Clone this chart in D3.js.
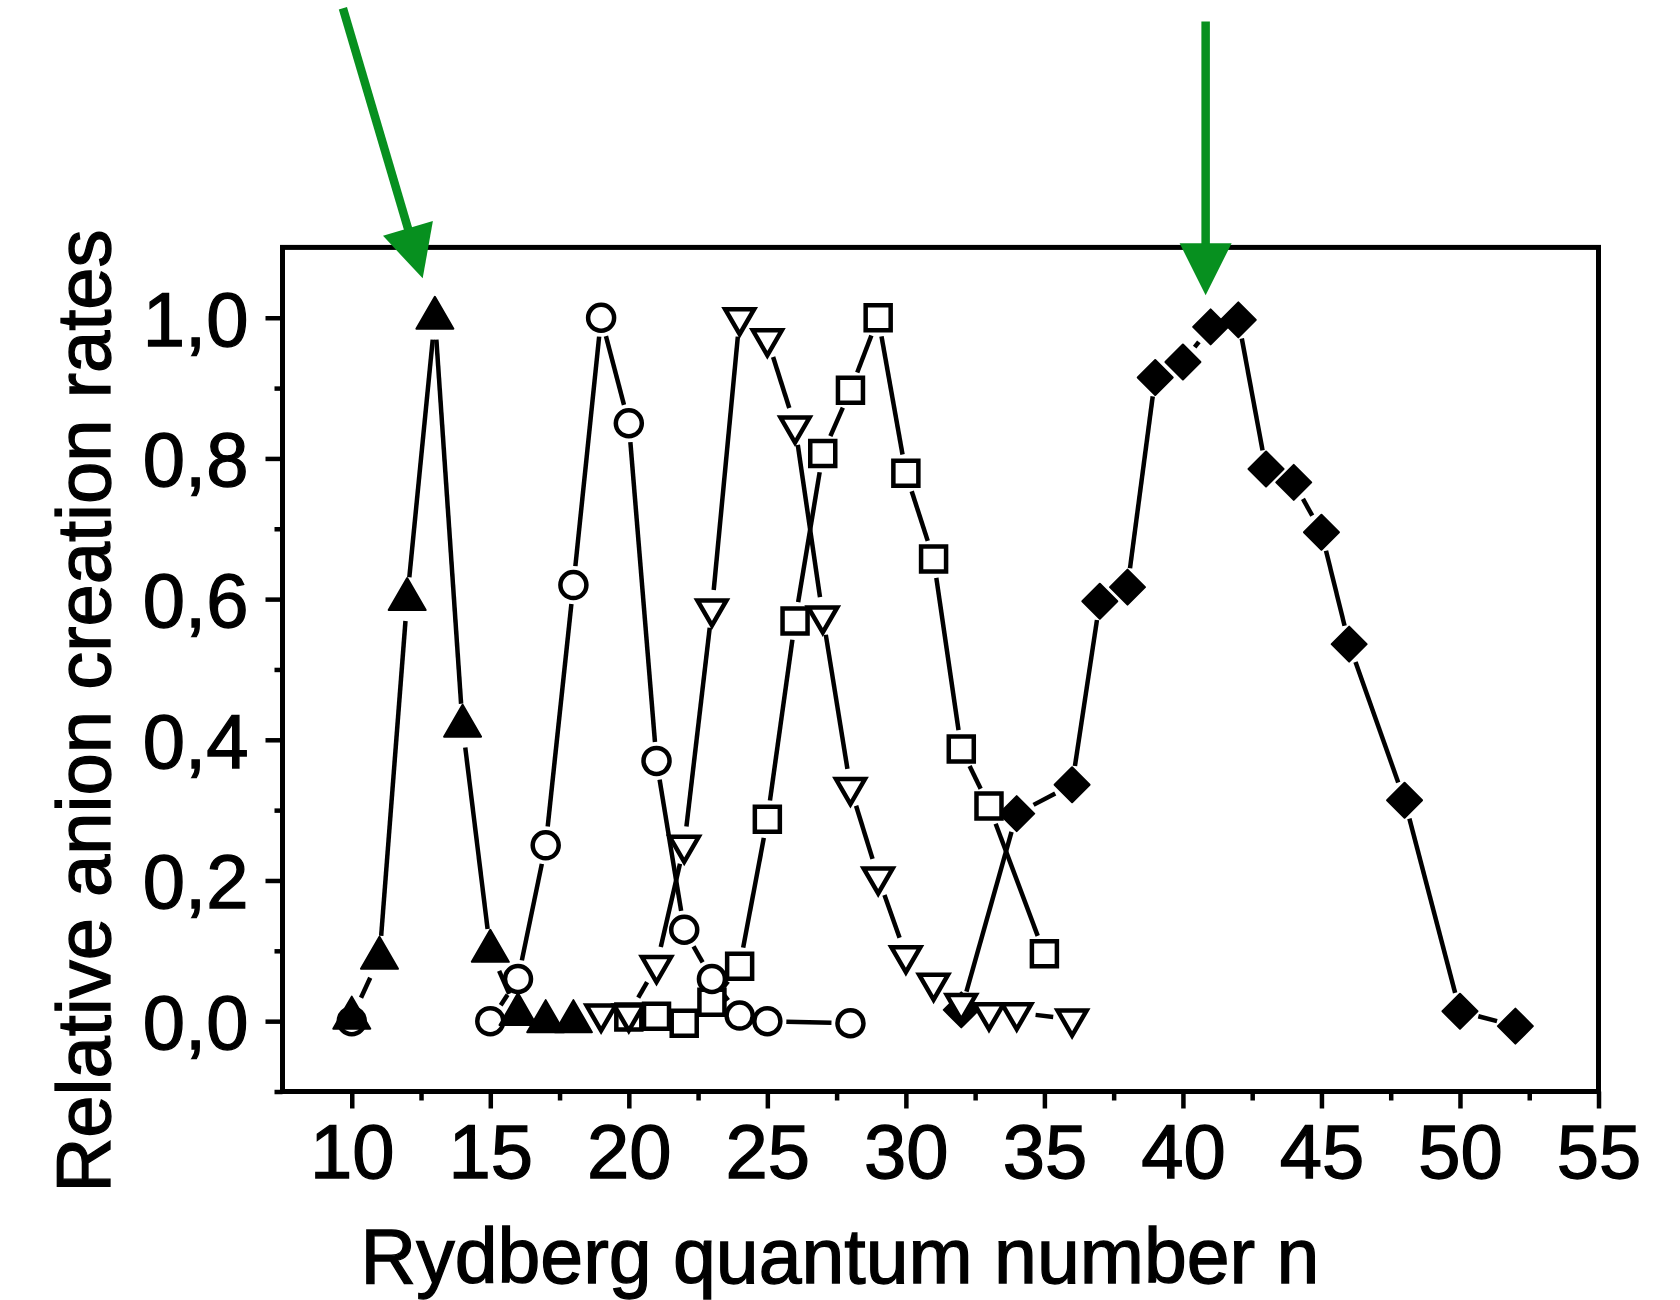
<!DOCTYPE html>
<html>
<head>
<meta charset="utf-8">
<script src="https://cdn.jsdelivr.net/npm/d3@7"></script>
<style>
  html, body { margin: 0; padding: 0; background: #fff; }
  svg { display: block; }
  text { font-family: "Liberation Sans", Arial, Helvetica, sans-serif; fill: #000; stroke: #000; stroke-width: 1.3px; }
</style>
</head>
<body>
<svg id="chart" width="1680" height="1300"></svg>
<script>
// Rydberg quantum number n for each series, and the relative anion creation rate at each n
const nTriUp = [10, 11, 12, 13, 14, 15, 16, 17, 18];
const rateTriUp = [0.005, 0.09, 0.60, 1.00, 0.42, 0.10, 0.01, 0.0, 0.0];

// null breaks the connecting line (no line between n = 10 and n = 15)
const nCircle = [10, 11, 15, 16, 17, 18, 19, 20, 21, 22, 23, 24, 25, 28];
const rateCircle = [0.0, null, 0.0, 0.06, 0.25, 0.62, 1.00, 0.85, 0.37, 0.13, 0.06, 0.008, 0.0, -0.003];

const nTriDown = [19, 20, 21, 22, 23, 24, 25, 26, 27, 28, 29, 30, 31, 32, 33, 34, 36];
const rateTriDown = [0.01, 0.01, 0.079, 0.25, 0.586, 1.00, 0.97, 0.846, 0.576, 0.332, 0.205, 0.093, 0.054, 0.025, 0.012, 0.012, 0.003];

const nSquare = [20, 21, 22, 23, 24, 25, 26, 27, 28, 29, 30, 31, 32, 33, 35];
const rateSquare = [0.006, 0.007, -0.003, 0.027, 0.078, 0.287, 0.569, 0.807, 0.897, 1.00, 0.779, 0.657, 0.387, 0.306, 0.096];

const nDiamond = [32, 34, 36, 37, 38, 39, 40, 41, 42, 43, 44, 45, 46, 48, 50, 52];
const rateDiamond = [0.016, 0.295, 0.336, 0.597, 0.617, 0.915, 0.937, 0.987, 0.997, 0.785, 0.766, 0.695, 0.536, 0.314, 0.014, -0.007];

// axis ticks
const xMajorTicks = [10, 15, 20, 25, 30, 35, 40, 45, 50, 55];
const xMinorTicks = [12.5, 17.5, 22.5, 27.5, 32.5, 37.5, 42.5, 47.5, 52.5];
const yMajorTicks = [0.0, 0.2, 0.4, 0.6, 0.8, 1.0];
const yMinorTicks = [-0.1, 0.1, 0.3, 0.5, 0.7, 0.9];

// green arrows marking the outermost peaks (in data units: [n, rate])
const peakArrows = [
  { from: [9.68, 1.44], to: [12.56, 1.056] },
  { from: [40.82, 1.421], to: [40.82, 1.032] }
];

const svg = d3.select("#chart");
svg.append("rect").attr("width", 1680).attr("height", 1300).attr("fill", "#fff");

const plot = { left: 282.5, right: 1598.5, top: 247.4, bottom: 1091.5 };

const x = d3.scaleLinear().domain([7.5, 55]).range([plot.left, plot.right]);
const y = d3.scaleLinear().domain([-0.1, 1.1]).range([plot.bottom, plot.top]);

const fmtComma = d => d3.format(".1f")(d).replace(".", ",");

// ---- axes ----
const axisG = svg.append("g");

const yMajor = axisG.append("g").attr("transform", `translate(${plot.left},0)`)
  .call(d3.axisLeft(y).tickValues(yMajorTicks).tickSize(17).tickSizeOuter(0).tickPadding(17).tickFormat(fmtComma));
const yMinor = axisG.append("g").attr("transform", `translate(${plot.left},0)`)
  .call(d3.axisLeft(y).tickValues(yMinorTicks).tickSize(8).tickSizeOuter(0).tickFormat(""));
const xMajor = axisG.append("g").attr("transform", `translate(0,${plot.bottom})`)
  .call(d3.axisBottom(x).tickValues(xMajorTicks).tickSize(17).tickSizeOuter(0).tickPadding(16).tickFormat(d3.format("d")));
const xMinor = axisG.append("g").attr("transform", `translate(0,${plot.bottom})`)
  .call(d3.axisBottom(x).tickValues(xMinorTicks).tickSize(9).tickSizeOuter(0).tickFormat(""));

axisG.selectAll(".domain").remove();
axisG.selectAll(".tick line").attr("stroke", "#000").attr("stroke-width", 4.5);
axisG.selectAll(".tick text")
  .attr("font-size", 76)
  .attr("font-family", "'Liberation Sans', Arial, sans-serif")
  .attr("fill", "#000");
yMajor.selectAll(".tick text").attr("dy", "0.36em");

// frame
svg.append("rect")
  .attr("x", plot.left).attr("y", plot.top)
  .attr("width", plot.right - plot.left).attr("height", plot.bottom - plot.top)
  .attr("fill", "none").attr("stroke", "#000").attr("stroke-width", 5);

// ---- axis titles ----
svg.append("text")
  .attr("x", 840).attr("y", 1283)
  .attr("text-anchor", "middle")
  .attr("font-size", 77)
  .text("Rydberg quantum number n");

svg.append("text")
  .attr("transform", "translate(110,711) rotate(-90)")
  .attr("text-anchor", "middle")
  .attr("font-size", 76)
  .text("Relative anion creation rates");

// ---- series ----
function points(ns, vals) {
  return ns.map((n, i) => ({ n, v: vals[i] }));
}

// connecting lines stop short of each symbol, leaving a gap around it
function drawGappedLine(g, pts, gap) {
  for (let i = 0; i < pts.length - 1; i++) {
    const a = pts[i], b = pts[i + 1];
    if (a.v == null || b.v == null) continue;
    const x0 = x(a.n), y0 = y(a.v), x1 = x(b.n), y1 = y(b.v);
    const dx = x1 - x0, dy = y1 - y0, d = Math.hypot(dx, dy);
    if (d <= 2 * gap + 1) continue;
    const ux = dx / d, uy = dy / d;
    g.append("line")
      .attr("x1", x0 + ux * gap).attr("y1", y0 + uy * gap)
      .attr("x2", x1 - ux * gap).attr("y2", y1 - uy * gap)
      .attr("stroke", "#000").attr("stroke-width", 4.5).attr("stroke-linecap", "butt");
  }
}

const symbolPaths = {
  triUp: "M0,-21 L18.5,11 L-18.5,11 Z",
  triDown: "M0,16.5 L-14.5,-8.5 L14.5,-8.5 Z",
  circle: "M13,0 A13,13 0 1,1 -13,0 A13,13 0 1,1 13,0 Z",
  square: "M-12.5,-12.5 L12.5,-12.5 L12.5,12.5 L-12.5,12.5 Z",
  diamond: "M0,-17.5 L17.5,0 L0,17.5 L-17.5,0 Z"
};

function drawSymbols(g, pts, shape, filled) {
  g.selectAll("path.sym").data(pts.filter(p => p.v != null)).join("path")
    .attr("class", "sym")
    .attr("transform", p => `translate(${x(p.n)},${y(p.v)})`)
    .attr("d", symbolPaths[shape])
    .attr("fill", filled ? "#000" : "#fff")
    .attr("stroke", "#000")
    .attr("stroke-width", filled ? 2 : 4.5)
    .attr("stroke-linejoin", filled ? "round" : "miter");
}

const series = [
  { ns: nDiamond, vals: rateDiamond, shape: "diamond", filled: true, gap: 19 },
  { ns: nSquare, vals: rateSquare, shape: "square", filled: false, gap: 19 },
  { ns: nTriDown, vals: rateTriDown, shape: "triDown", filled: false, gap: 19 },
  { ns: nCircle, vals: rateCircle, shape: "circle", filled: false, gap: 19 },
  { ns: nTriUp, vals: rateTriUp, shape: "triUp", filled: true, gap: 22 }
];

const lineLayer = svg.append("g");
const symLayer = svg.append("g");
series.forEach(s => {
  const pts = points(s.ns, s.vals);
  drawGappedLine(lineLayer, pts, s.gap);
  drawSymbols(symLayer.append("g"), pts, s.shape, s.filled);
});

// ---- peak arrows ----
const green = "#07901f";
const arrowG = svg.append("g");
peakArrows.forEach(a => {
  const x0 = x(a.from[0]), y0 = y(a.from[1]);
  const x1 = x(a.to[0]), y1 = y(a.to[1]);
  const dx = x1 - x0, dy = y1 - y0, d = Math.hypot(dx, dy);
  const ux = dx / d, uy = dy / d;
  const headLen = 52, headHalf = 26;
  const bx = x1 - ux * headLen, by = y1 - uy * headLen;
  arrowG.append("line")
    .attr("x1", x0).attr("y1", y0)
    .attr("x2", bx + ux * 4).attr("y2", by + uy * 4)
    .attr("stroke", green).attr("stroke-width", 8.5);
  arrowG.append("path")
    .attr("d", `M${x1},${y1} L${bx - uy * headHalf},${by + ux * headHalf} L${bx + uy * headHalf},${by - ux * headHalf} Z`)
    .attr("fill", green);
});
</script>
</body>
</html>
